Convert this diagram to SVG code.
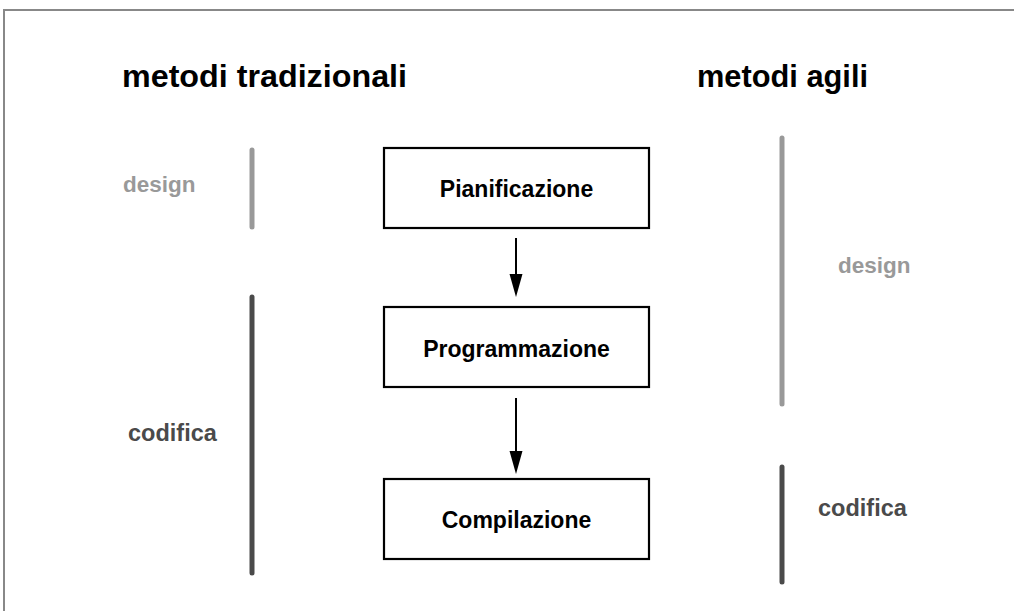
<svg xmlns="http://www.w3.org/2000/svg" width="1014" height="611" viewBox="0 0 1014 611">
<style>
text{font-family:"Liberation Sans",Arial,sans-serif;font-weight:bold}
.title{font-size:32px;fill:#000}
.box{fill:#fff;stroke:#000;stroke-width:2.2}
.lbl{font-size:23px;fill:#000;text-anchor:middle}
.light{fill:#999}
.dark{fill:#4a4a4a}
.bar{stroke-width:5;stroke-linecap:round;fill:none}
.bl{stroke:#999}
.bd{stroke:#4a4a4a}
.conn{stroke:#000;stroke-width:2;fill:none}
</style>
<rect x="4" y="10" width="1030" height="630" fill="#fff" stroke="#888" stroke-width="2"/>
<g id="titles">
<text class="title" x="122" y="87" textLength="285" lengthAdjust="spacingAndGlyphs">metodi tradizionali</text>
<text class="title" x="697" y="87" textLength="171" lengthAdjust="spacingAndGlyphs">metodi agili</text>
</g>
<g id="trad-design">
<line class="bar bl" x1="252" y1="150" x2="252" y2="227"/>
<text class="light" x="123" y="192" style="font-size:22.5px">design</text>
</g>
<g id="trad-codifica">
<line class="bar bd" x1="252" y1="297" x2="252" y2="573"/>
<text class="dark" x="128" y="441" style="font-size:23.5px">codifica</text>
</g>
<g id="agile-design">
<line class="bar bl" x1="782" y1="138" x2="782" y2="404"/>
<text class="light" x="838" y="273" style="font-size:22.5px">design</text>
</g>
<g id="agile-codifica">
<line class="bar bd" x1="782" y1="467" x2="782" y2="582"/>
<text class="dark" x="818" y="516" style="font-size:23.5px">codifica</text>
</g>
<g id="pianificazione">
<rect class="box" x="384" y="148" width="265" height="80"/>
<text class="lbl" x="516.5" y="197">Pianificazione</text>
</g>
<g id="programmazione">
<rect class="box" x="384" y="307" width="265" height="80"/>
<text class="lbl" x="516.5" y="357">Programmazione</text>
</g>
<g id="compilazione">
<rect class="box" x="384" y="479" width="265" height="80"/>
<text class="lbl" x="516.5" y="528">Compilazione</text>
</g>
<g id="connectors">
<line class="conn" x1="516" y1="238" x2="516" y2="280"/>
<path d="M509.5,274 L522.5,274 L516,297 Z" fill="#000"/>
<line class="conn" x1="516" y1="398" x2="516" y2="455"/>
<path d="M509.5,451 L522.5,451 L516,474 Z" fill="#000"/>
</g>
</svg>
